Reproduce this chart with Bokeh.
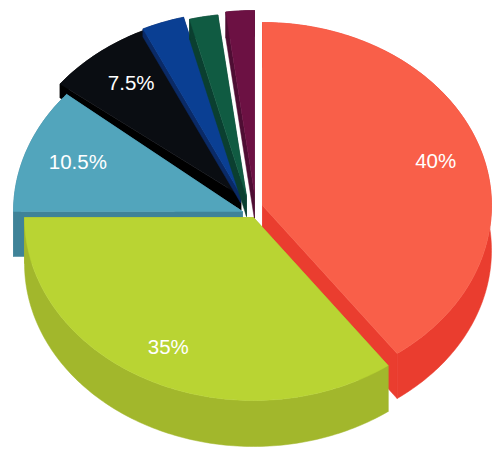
import math
from bokeh.plotting import figure
from bokeh.models import Range1d
from bokeh.core.properties import value
from bokeh.embed import file_html
from bokeh.resources import INLINE

values = [40, 35, 10.5, 7.5, 3, 2, 2]
labels = ["40%", "35%", "10.5%", "7.5%", None, None, None]
top_colors = ["#F95F49", "#B9D433", "#52A5BC", "#0A0D12", "#0A3F93", "#105B42", "#6C1143"]
side_colors = ["#EA3D2F", "#A2B72C", "#3F8398", "#000000", "#0A2A66", "#0B3F30", "#4E0D33"]
centers_x = [262, 253, 242, 240.5, 240, 246, 254]
centers_y = [205, 217, 211, 195.6, 194, 196, 193]
depths = [45, 46, 45, 14, 8, 20, 26]
end_extra_deg = [0, 0, 2, 0, 0, 0, 0]
label_r = [0.8, 0.8, 0.76, 0.76, 0, 0, 0]
label_dx = [-1, -2, 0, -1, 0, 0, 0]
label_dy = [0, -1, -5, -5, 0, 0, 0]
draw_order = [3, 4, 5, 6, 2, 0, 1]
RX, RY = 229, 183

W, H = 496, 457
p = figure(width=W, height=H, output_backend="svg", toolbar_location=None,
           x_range=Range1d(0, W), y_range=Range1d(H, 0),
           min_border=0, outline_line_color=None, background_fill_color=None,
           border_fill_color=None)
p.axis.visible = False
p.grid.visible = False

total = sum(values)
starts, a = [], 0.0
for v in values:
    starts.append(a)
    a += v / total * 2 * math.pi


def arc(cx, cy, a0, a1, dy=0.0):
    n = max(int((a1 - a0) / math.radians(1)), 2)
    return [(cx + RX * math.sin(a0 + (a1 - a0) * i / n),
             cy - RY * math.cos(a0 + (a1 - a0) * i / n) + dy) for i in range(n + 1)]


for i in draw_order:
    a0 = starts[i]
    a1 = a0 + values[i] / total * 2 * math.pi + math.radians(end_extra_deg[i])
    cx, cy, d = centers_x[i], centers_y[i], depths[i]
    rim = arc(cx, cy, a0, a1)
    # radial walls, extruded downward
    for pt in (rim[0], rim[-1]):
        xs = [cx, pt[0], pt[0], cx]
        ys = [cy, pt[1], pt[1] + d, cy + d]
        p.patch(xs, ys, fill_color=side_colors[i], line_color=side_colors[i], line_width=0.5)
    # outer wall
    low = arc(cx, cy, a0, a1, d)
    wall = rim + low[::-1]
    p.patch([q[0] for q in wall], [q[1] for q in wall],
            fill_color=side_colors[i], line_color=side_colors[i], line_width=0.5)
    # top face
    xs = [cx] + [q[0] for q in rim]
    ys = [cy] + [q[1] for q in rim]
    p.patch(xs, ys, fill_color=top_colors[i], line_color=top_colors[i], line_width=0.5)

for i, t in enumerate(labels):
    if t is None:
        continue
    mid = starts[i] + values[i] / total * math.pi
    x = centers_x[i] + label_r[i] * RX * math.sin(mid) + label_dx[i]
    y = centers_y[i] - label_r[i] * RY * math.cos(mid) + label_dy[i]
    p.text([x], [y], text=[t], text_color="#FFFFFF", text_font=value("Liberation Sans"),
           text_font_size="20.5px", text_align="center", text_baseline="middle")

open("out.html", "w").write(file_html(p, INLINE))
